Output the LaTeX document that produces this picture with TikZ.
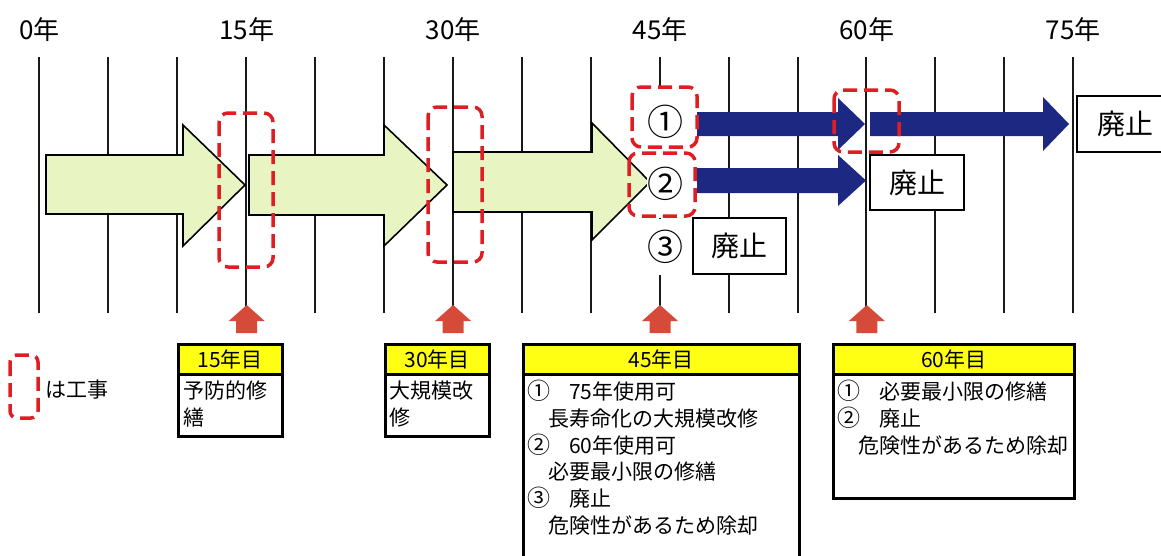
\documentclass[tikz,border=0pt]{standalone}
\usepackage{fontspec}
\setmainfont{Noto Sans CJK JP}
\definecolor{gfill}{RGB}{232,245,195}
\definecolor{navy}{RGB}{28,40,130}
\definecolor{rdred}{RGB}{222,30,35}
\definecolor{uparrow}{RGB}{214,74,58}
\definecolor{hyellow}{RGB}{255,255,20}
\newcommand{\cnum}[1]{\makebox[21pt][l]{\fontsize{23}{26.7}\selectfont #1}}
\tikzset{
 vline/.style={line width=2pt, black!90},
 garrow/.style={fill=gfill, draw=black, line width=1.6pt, line join=miter},
 barrow/.style={fill=navy},
 rdash/.style={draw=rdred, line width=3.5pt, dash pattern=on 14pt off 7pt, rounded corners=9pt},
 upar/.style={fill=uparrow},
 toplbl/.style={font=\fontsize{26}{30}\selectfont, anchor=base, inner sep=0pt},
 circ/.style={font=\fontsize{36}{38}\selectfont, fill=white, inner sep=0pt, minimum width=28pt},
 haishi/.style={draw=black, line width=2pt, fill=white, font=\fontsize{28}{30}\selectfont, inner sep=0pt},
 obox/.style={draw=black, line width=2.5pt, fill=white, inner sep=0pt, anchor=north west},
 hdr/.style={draw=black, line width=2.5pt, fill=hyellow, inner sep=0pt, anchor=north west, minimum height=30pt, font=\fontsize{21}{24}\selectfont},
 btext/.style={font=\fontsize{21}{26.7}\selectfont, align=left, anchor=north west, inner sep=0pt},
}
\begin{document}
\begin{tikzpicture}[x=1pt,y=-1pt]
\useasboundingbox (0,0) rectangle (1161,555);
\clip (0,0) rectangle (1161,555);
% vertical year lines
\foreach \i in {0,...,15}{
  \coordinate (t\i) at ({39.3+68.93*\i},57);
  \coordinate (b\i) at ({39.3+68.93*\i},313);
  \draw[vline] (t\i) -- (b\i);
}
% year labels
\node[toplbl] (y0) at (39.3,39) {0年};
\node[toplbl] (y15) at (246.7,39) {15年};
\node[toplbl] (y30) at (453.1,39) {30年};
\node[toplbl] (y45) at (660,39) {45年};
\node[toplbl] (y60) at (866.8,39) {60年};
\node[toplbl] (y75) at (1073.2,39) {75年};
% green arrows
\draw[garrow] (46,155) -- (183,155) -- (183,125) -- (245,185) -- (183,246) -- (183,214) -- (46,214) -- cycle;
\draw[garrow] (249,155) -- (384,155) -- (384,125) -- (447,185) -- (384,246) -- (384,215) -- (249,215) -- cycle;
\draw[garrow] (453,152) -- (592,152) -- (592,123) -- (650,182) -- (592,240) -- (592,212) -- (453,212) -- cycle;
% blue arrows
\fill[barrow] (697,112) -- (838,112) -- (838,98) -- (865,124) -- (838,150) -- (838,136) -- (697,136) -- cycle;
\fill[barrow] (870,112) -- (1043,112) -- (1043,97) -- (1069,124) -- (1043,151) -- (1043,136) -- (870,136) -- cycle;
\fill[barrow] (697,168) -- (838,168) -- (838,155) -- (866,180.5) -- (838,206) -- (838,193) -- (697,193) -- cycle;
% option labels
\node[circ, minimum height=68pt] (c1) at (665,122) {①};
\node[circ, minimum height=68pt] (c2) at (665,184) {②};
\node[circ, minimum height=56pt] (c3) at (665,247) {③};
% haishi boxes
\node[haishi, minimum width=93pt, minimum height=56pt] (h3) at (739.5,246) {廃止};
\node[haishi, minimum width=94pt, minimum height=55pt] (h60) at (917,182.5) {廃止};
\node[haishi, minimum width=96pt, minimum height=56pt] (h75) at (1125,124) {廃止};
% red dashed construction markers
\draw[rdash] (219,113) rectangle (273,267);
\draw[rdash] (428,107) rectangle (482,262);
\draw[rdash] (632,87) rectangle (697,147);
\draw[rdash] (629,153) rectangle (695,216);
\draw[rdash] (834,90) rectangle (899,152);
% up arrows
\foreach \x in {246.7,453.1,660,866.8}{
  \fill[upar] (\x,305) -- (\x+18,321) -- (\x+10.5,321) -- (\x+10.5,333) -- (\x-10.5,333) -- (\x-10.5,321) -- (\x-18,321) -- cycle;
}
% legend
\draw[rdash, rounded corners=7pt] (10,355) rectangle (38,418);
\node[font=\fontsize{21}{24}\selectfont, anchor=west, inner sep=0pt] (leg) at (45,390) {は工事};
% 15 box
\node[obox, minimum width=104pt, minimum height=92pt] (box15) at (177,343) {};
\node[hdr, minimum width=104pt] (hd15) at (box15.north west) {15年目};
\node[btext] (tx15) at (183,381) {予防的修\\繕};
% 30 box
\node[obox, minimum width=104pt, minimum height=92pt] (box30) at (384,343) {};
\node[hdr, minimum width=104pt] (hd30) at (box30.north west) {30年目};
\node[btext] (tx30) at (389,381) {大規模改\\修};
% 45 box
\node[obox, minimum width=276pt, minimum height=230pt] (box45) at (522,343) {};
\node[hdr, minimum width=276pt] (hd45) at (box45.north west) {45年目};
\node[btext] (tx45) at (527,380) {\cnum{①}　75年使用可\\　長寿命化の大規模改修\\\cnum{②}　60年使用可\\　必要最小限の修繕\\\cnum{③}　廃止\\　危険性があるため除却};
% 60 box
\node[obox, minimum width=241pt, minimum height=154pt] (box60) at (832,343) {};
\node[hdr, minimum width=241pt] (hd60) at (box60.north west) {60年目};
\node[btext] (tx60) at (837,380) {\cnum{①}　必要最小限の修繕\\\cnum{②}　廃止\\　危険性があるため除却};
\end{tikzpicture}
\end{document}
